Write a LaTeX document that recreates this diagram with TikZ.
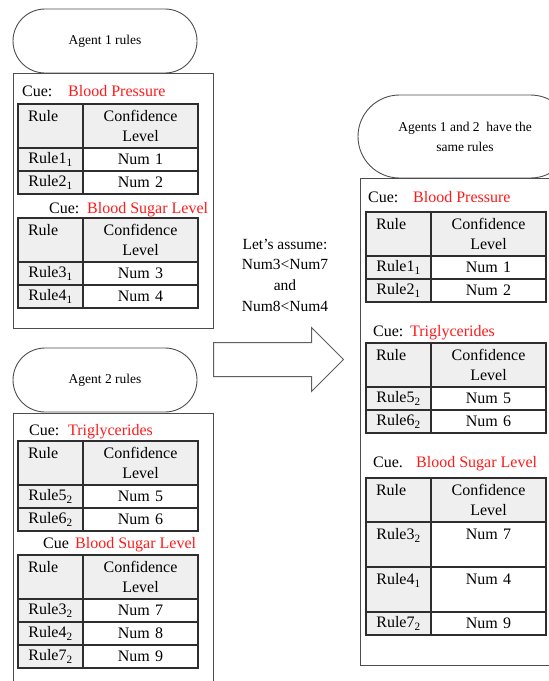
\documentclass[tikz,border=0pt]{standalone}
\usepackage{fontspec}
\setmainfont{Liberation Serif}
\usepackage{tikz}
\usetikzlibrary{positioning,shapes.misc,shapes.arrows}

\definecolor{boxline}{HTML}{4D4D4D}
\definecolor{tabline}{HTML}{2E2E2E}
\definecolor{cellgray}{HTML}{EFEFEF}
\definecolor{cuered}{HTML}{FF1A1A}

\begin{document}
\begin{tikzpicture}[
    x=1pt, y=-1pt,
    agent/.style={rounded rectangle, draw=boxline, line width=0.9pt, align=center, inner sep=0pt,
        font=\fontsize{13.5}{20}\selectfont},
    panel/.style={draw=boxline, line width=0.9pt, anchor=north west, inner sep=0pt},
    cell/.style={draw=tabline, line width=1.2pt, inner sep=0pt, outer sep=0pt, align=center,
        minimum height=23pt, font=\fontsize{16}{20.5}\selectfont},
    rulecell/.style={cell, fill=cellgray, text width=65pt},
    numcell/.style={cell, fill=white, text width=115pt},
    rulehead/.style={rulecell, anchor=north west, align=left, text width=45pt, inner xsep=10pt, minimum height=44pt},
    confhead/.style={numcell, fill=cellgray, minimum height=44pt},
    tall/.style={minimum height=45pt},
    cue/.style={anchor=base west, inner sep=0pt, font=\fontsize{16}{20}\selectfont},
    cuename/.style={cue, text=cuered}
]
\useasboundingbox (0,0) rectangle (549,681);

% agent 1
\node[agent, minimum width=184pt, minimum height=64pt] (ag1) at (105,41) {Agent 1 rules};
\node[panel, minimum width=200pt, minimum height=255pt] (box1) at (13,73) {};
\node[cue] (cue1) at (22,96) {Cue:};
\node[cuename] (bp1) at (68,96) {Blood Pressure};
\node[rulehead] (t1r) at (18,104) {Rule\\\phantom{L}};
\node[confhead, right=0pt of t1r] (t1c) {Confidence\\Level};
\node[rulecell, below=0pt of t1r] (t1r1) {Rule1\textsubscript{1}};
\node[numcell, right=0pt of t1r1] (t1n1) {Num 1};
\node[rulecell, below=0pt of t1r1] (t1r2) {Rule2\textsubscript{1}};
\node[numcell, right=0pt of t1r2] (t1n2) {Num 2};

\node[cue] (cue2) at (49,213) {Cue:};
\node[cuename] (bs1) at (87,213) {Blood Sugar Level};
\node[rulehead] (t2r) at (18,218) {Rule\\\phantom{L}};
\node[confhead, right=0pt of t2r] (t2c) {Confidence\\Level};
\node[rulecell, below=0pt of t2r] (t2r1) {Rule3\textsubscript{1}};
\node[numcell, right=0pt of t2r1] (t2n1) {Num 3};
\node[rulecell, below=0pt of t2r1] (t2r2) {Rule4\textsubscript{1}};
\node[numcell, right=0pt of t2r2] (t2n2) {Num 4};

% agent 2
\node[agent, minimum width=184pt, minimum height=64pt] (ag2) at (105,380) {Agent 2 rules};
\node[panel, minimum width=200pt, minimum height=300pt] (box2) at (13,413) {};
\node[cue] (cue3) at (29,435) {Cue:};
\node[cuename] (tg2) at (68,435) {Triglycerides};
\node[rulehead] (t3r) at (18,441) {Rule\\\phantom{L}};
\node[confhead, right=0pt of t3r] (t3c) {Confidence\\Level};
\node[rulecell, below=0pt of t3r] (t3r1) {Rule5\textsubscript{2}};
\node[numcell, right=0pt of t3r1] (t3n1) {Num 5};
\node[rulecell, below=0pt of t3r1] (t3r2) {Rule6\textsubscript{2}};
\node[numcell, right=0pt of t3r2] (t3n2) {Num 6};

\node[cue] (cue4) at (43,548) {Cue};
\node[cuename] (bs2) at (75,548) {Blood Sugar Level};
\node[rulehead] (t4r) at (18,555) {Rule\\\phantom{L}};
\node[confhead, right=0pt of t4r] (t4c) {Confidence\\Level};
\node[rulecell, below=0pt of t4r] (t4r1) {Rule3\textsubscript{2}};
\node[numcell, right=0pt of t4r1] (t4n1) {Num 7};
\node[rulecell, below=0pt of t4r1] (t4r2) {Rule4\textsubscript{2}};
\node[numcell, right=0pt of t4r2] (t4n2) {Num 8};
\node[rulecell, below=0pt of t4r2] (t4r3) {Rule7\textsubscript{2}};
\node[numcell, right=0pt of t4r3] (t4n3) {Num 9};

% assumption and merge arrow
\node[align=center, font=\fontsize{15.5}{20.7}\selectfont] (assume) at (285,275)
    {Let’s assume:\\Num3<Num7\\and\\Num8<Num4};
\node[single arrow, draw=boxline!90, line width=1pt, inner xsep=0pt, inner ysep=16.5pt,
    minimum width=63pt, minimum height=130pt, single arrow head extend=15pt,
    anchor=tail] (merge) at (213,359.5) {};

% merged rules
\node[agent, minimum width=214pt, minimum height=83pt] (ag12) at (465,136.5)
    {Agents 1 and 2~ have the\\same rules};
\node[panel, minimum width=210pt, minimum height=487pt] (box3) at (360,178) {};
\node[cue] (cue5) at (368,202) {Cue:};
\node[cuename] (bp3) at (413,202) {Blood Pressure};
\node[rulehead] (t5r) at (366,212) {Rule\\\phantom{L}};
\node[confhead, right=0pt of t5r] (t5c) {Confidence\\Level};
\node[rulecell, below=0pt of t5r] (t5r1) {Rule1\textsubscript{1}};
\node[numcell, right=0pt of t5r1] (t5n1) {Num 1};
\node[rulecell, below=0pt of t5r1] (t5r2) {Rule2\textsubscript{1}};
\node[numcell, right=0pt of t5r2] (t5n2) {Num 2};

\node[cue] (cue6) at (373,336) {Cue:};
\node[cuename] (tg3) at (410,336) {Triglycerides};
\node[rulehead] (t6r) at (366,343) {Rule\\\phantom{L}};
\node[confhead, right=0pt of t6r] (t6c) {Confidence\\Level};
\node[rulecell, below=0pt of t6r] (t6r1) {Rule5\textsubscript{2}};
\node[numcell, right=0pt of t6r1] (t6n1) {Num 5};
\node[rulecell, below=0pt of t6r1] (t6r2) {Rule6\textsubscript{2}};
\node[numcell, right=0pt of t6r2] (t6n2) {Num 6};

\node[cue] (cue7) at (373,467) {Cue.};
\node[cuename] (bs3) at (416,467) {Blood Sugar Level};
\node[rulehead] (t7r) at (366,478) {Rule\\\phantom{L}};
\node[confhead, right=0pt of t7r] (t7c) {Confidence\\Level};
\node[rulecell, tall, below=0pt of t7r] (t7r1) {Rule3\textsubscript{2}\\\phantom{N}};
\node[numcell, tall, right=0pt of t7r1] (t7n1) {Num 7\\\phantom{N}};
\node[rulecell, tall, below=0pt of t7r1] (t7r2) {Rule4\textsubscript{1}\\\phantom{N}};
\node[numcell, tall, right=0pt of t7r2] (t7n2) {Num 4\\\phantom{N}};
\node[rulecell, below=0pt of t7r2] (t7r3) {Rule7\textsubscript{2}};
\node[numcell, right=0pt of t7r3] (t7n3) {Num 9};

\end{tikzpicture}
\end{document}
